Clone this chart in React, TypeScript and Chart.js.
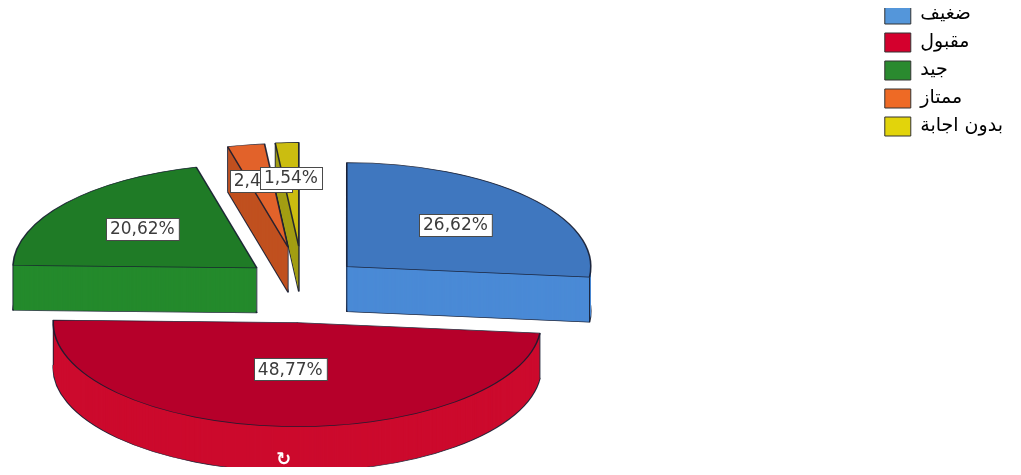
import React, { useEffect, useRef } from 'react';
import { Chart, registerables } from 'chart.js';

Chart.register(...registerables);

// ---- data ----
const categories = ['ضغيف', 'مقبول', 'جيد', 'ممتاز', 'بدون اجابة'];
const percentages = [26.62, 48.77, 20.62, 2.45, 1.54];

// ---- styles ----
const topColors = ['#3f77bf', '#b6002a', '#1f7b26', '#e2622a', '#cbbd10'];
const sideColors = ['#4a8ad6', '#cc0a2d', '#248a2c', '#c0501f', '#a39e14'];
const legendColors = ['#5496da', '#d4002d', '#2a8a2f', '#ee6a25', '#e2d40b'];
const explodeDist = [59, 92, 59, 86, 87];
const labelFrac = [0.6, 0.45, 0.6, 0.65, 0.66];
const drawOrder = [4, 3, 2, 0, 1];

const CENTER_X = 295;
const CENTER_Y = 275.5;
const RADIUS = 244;
const TILT = 104 / 244;
const DEPTH = 45;
const EDGE = 'rgba(22,28,48,0.9)';

function geom(arc: any, i: number) {
  const p = arc.getProps(['x', 'y', 'startAngle', 'endAngle', 'outerRadius'], true);
  const mid = (p.startAngle + p.endAngle) / 2;
  const ox = Math.cos(mid) * explodeDist[i];
  const oy = Math.sin(mid) * explodeDist[i];
  const toScreen = (px: number, py: number, dy = 0) => ({
    x: CENTER_X + (px + ox - p.x),
    y: CENTER_Y + (py + oy - p.y) * TILT + dy,
  });
  return { ...p, mid, ox, oy, toScreen };
}

const pie3d = {
  id: 'pie3d',
  beforeDatasetsDraw(chart: any) {
    const ctx = chart.ctx;
    const arcs = chart.getDatasetMeta(0).data;
    for (const i of drawOrder) {
      const arc = arcs[i];
      const g = geom(arc, i);
      const orig = arc.options;
      const place = (dy: number) => {
        ctx.save();
        ctx.translate(CENTER_X, CENTER_Y + dy);
        ctx.scale(1, TILT);
        ctx.translate(g.ox - g.x, g.oy - g.y);
      };
      // bottom layer with outline
      arc.options = { ...orig, backgroundColor: sideColors[i], borderColor: EDGE, borderWidth: 1.6 };
      place(DEPTH);
      arc.draw(ctx);
      ctx.restore();
      // side body
      arc.options = { ...orig, backgroundColor: sideColors[i], borderWidth: 0 };
      for (let k = DEPTH - 1; k >= 1; k--) {
        place(k);
        arc.draw(ctx);
        ctx.restore();
      }
      // vertical edges
      ctx.save();
      ctx.strokeStyle = EDGE;
      ctx.lineWidth = 1;
      const pts = [
        g.toScreen(g.x, g.y),
        g.toScreen(g.x + Math.cos(g.startAngle) * g.outerRadius, g.y + Math.sin(g.startAngle) * g.outerRadius),
        g.toScreen(g.x + Math.cos(g.endAngle) * g.outerRadius, g.y + Math.sin(g.endAngle) * g.outerRadius),
      ];
      ctx.beginPath();
      for (const pt of pts) {
        ctx.moveTo(pt.x, pt.y);
        ctx.lineTo(pt.x, pt.y + DEPTH);
      }
      ctx.stroke();
      ctx.restore();
      // top face
      arc.options = { ...orig, backgroundColor: topColors[i], borderColor: EDGE, borderWidth: 1.6 };
      place(0);
      arc.draw(ctx);
      ctx.restore();
      arc.options = orig;
    }
    return false;
  },
  afterDraw(chart: any) {
    const ctx = chart.ctx;
    const arcs = chart.getDatasetMeta(0).data;
    ctx.save();
    ctx.font = '17px "DejaVu Sans"';
    ctx.textAlign = 'center';
    ctx.textBaseline = 'middle';
    arcs.forEach((arc: any, i: number) => {
      const g = geom(arc, i);
      const r = g.outerRadius * labelFrac[i];
      const pt = g.toScreen(g.x + Math.cos(g.mid) * r, g.y + Math.sin(g.mid) * r);
      const text = percentages[i].toFixed(2).replace('.', ',') + '%';
      const w = ctx.measureText(text).width + 8;
      const h = 22;
      const bx = Math.round(pt.x - w / 2) + 0.5;
      const by = Math.round(pt.y - h / 2) + 0.5;
      ctx.fillStyle = '#ffffff';
      ctx.fillRect(bx, by, w, h);
      ctx.strokeStyle = '#4a4a4a';
      ctx.lineWidth = 1;
      ctx.strokeRect(bx, by, w, h);
      ctx.fillStyle = '#3c3c3c';
      ctx.fillText(text, pt.x, pt.y + 1);
    });
    // rotation handle glyph on the front slice
    const red = geom(arcs[1], 1);
    const hp = red.toScreen(
      red.x + Math.cos(red.mid) * red.outerRadius,
      red.y + Math.sin(red.mid) * red.outerRadius,
      DEPTH * 0.75
    );
    ctx.fillStyle = '#ffffff';
    ctx.font = 'bold 18px "DejaVu Sans"';
    ctx.fillText('↻', hp.x + 2, hp.y);
    ctx.restore();
  },
};

export default function App() {
  const ref = useRef<HTMLCanvasElement | null>(null);
  useEffect(() => {
    if (!ref.current) return;
    const chart = new Chart(ref.current, {
      type: 'pie',
      data: {
        labels: categories,
        datasets: [
          {
            data: percentages,
            backgroundColor: topColors,
            borderWidth: 0,
          },
        ],
      },
      options: {
        responsive: false,
        animation: false,
        radius: RADIUS,
        layout: { padding: { top: -12, right: 0, left: 0, bottom: 0 } },
        plugins: {
          tooltip: { enabled: false },
          legend: {
            position: 'right',
            align: 'start',
            labels: {
              boxWidth: 26,
              boxHeight: 19,
              padding: 9,
              color: '#111111',
              font: { family: '"DejaVu Sans"', size: 19 },
              generateLabels: () =>
                categories.map((c, i) => ({
                  text: c,
                  fillStyle: legendColors[i],
                  strokeStyle: '#333333',
                  lineWidth: 1,
                  hidden: false,
                  index: i,
                  datasetIndex: 0,
                })),
            },
          },
        },
      } as any,
      plugins: [pie3d],
    });
    return () => chart.destroy();
  }, []);
  return (
    <div style={{ width: 1005, height: 459 }}>
      <canvas ref={ref} width={1005} height={459} style={{ display: 'block' }} />
    </div>
  );
}
